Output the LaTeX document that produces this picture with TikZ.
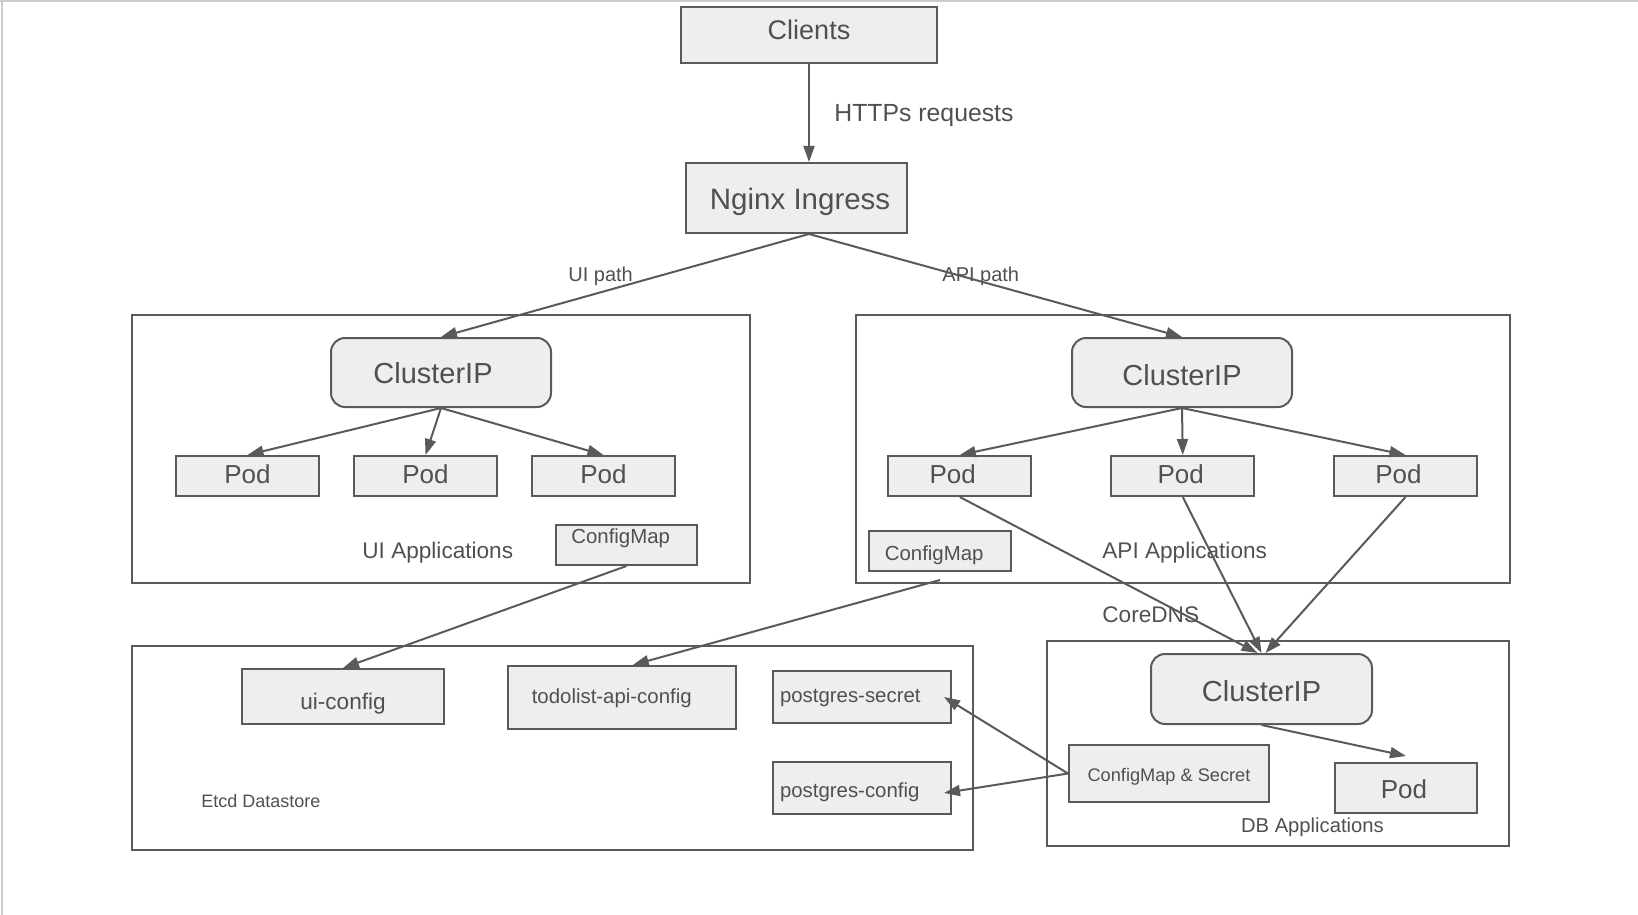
\documentclass[tikz,border=0pt]{standalone}
\usepackage{fontspec}
\setmainfont{Liberation Sans}
\usetikzlibrary{arrows.meta}
\definecolor{linegray}{HTML}{5A5A5A}
\definecolor{boxgray}{HTML}{EEEEEE}
\definecolor{textgray}{HTML}{505050}
\definecolor{framegray}{HTML}{CCCCCC}

\begin{document}
\begin{tikzpicture}[x=0.5pt, y=-0.5pt,
    fs/.style={font=\fontsize{#1}{#1}\selectfont},
    lift/.style={text depth=0pt, text height=#1},
    nudge/.style={execute at begin node=\kern-#1, execute at end node=\kern#1},
    box/.style={draw=linegray, fill=boxgray, line width=1pt, inner sep=0pt, text=textgray},
    roundbox/.style={box, rounded corners=7pt},
    podbox/.style={box, fs=13pt, minimum width=71.5pt, minimum height=20pt, lift=7.3pt},
    group/.style={draw=linegray, line width=1pt, inner sep=0pt},
    txt/.style={text=textgray, inner sep=0pt, anchor=base west},
    arr/.style={draw=linegray, line width=1pt, -{Triangle[length=8pt,width=5.5pt]}}]

    \useasboundingbox (0,0) rectangle (1638,915);
    % Page frame
    \draw[framegray, line width=0.6pt] (0,1) -- (1638,1);
    \draw[framegray, line width=0.6pt] (2,0) -- (2,915);

    % Clients and ingress
    \node[box, fs=13.5pt, minimum width=128pt, minimum height=28pt, lift=5pt] (CL) at (809,35) {Clients};
    \node[box, fs=14.75pt, minimum width=110.5pt, minimum height=35pt, lift=11.3pt, nudge=-1.8pt] (NG) at (796.5,198) {Nginx Ingress};
    \node[txt, fs=12.4pt] (HT) at (834,122) {HTTPs requests};
    \node[txt, fs=10pt] (UP) at (568,281.7) {UI path};
    \node[txt, fs=10pt] (AP) at (942,281.7) {API path};

    % UI Applications
    \node[group, minimum width=309pt, minimum height=134pt] (UA) at (441,449) {};
    \node[roundbox, fs=14.5pt, minimum width=110pt, minimum height=34.5pt, lift=10.5pt, nudge=4pt] (UC) at (441,372.5) {ClusterIP};
    \node[podbox] (U1) at (247.5,476) {Pod};
    \node[podbox] (U2) at (425.5,476) {Pod};
    \node[podbox] (U3) at (603.5,476) {Pod};
    \node[box, fs=10.2pt, minimum width=70.5pt, minimum height=20pt, text height=0pt, text depth=2pt, nudge=2.9pt] (UM) at (626.5,545) {ConfigMap};
    \node[txt, fs=11.3pt] (UT) at (362,558.3) {UI Applications};

    % API Applications
    \node[group, minimum width=327.25pt, minimum height=134pt] (AA) at (1182.75,449) {};
    \node[roundbox, fs=14.5pt, minimum width=110pt, minimum height=34.5pt, lift=12.5pt] (AC) at (1182,372.5) {ClusterIP};
    \node[podbox, nudge=3.5pt] (A1) at (959.75,476) {Pod};
    \node[podbox, nudge=1pt] (A2) at (1182.75,476) {Pod};
    \node[podbox, nudge=3.5pt] (A3) at (1405.5,476) {Pod};
    \node[box, fs=10.2pt, minimum width=71.25pt, minimum height=20pt, lift=9pt, nudge=2.9pt] (AM) at (940,551) {ConfigMap};
    \node[txt, fs=11.3pt] (AT) at (1102,558.3) {API Applications};
    \node[txt, fs=11.3pt] (DN) at (1102,622.7) {CoreDNS};

    % Etcd Datastore
    \node[group, minimum width=420.5pt, minimum height=102pt] (ED) at (552.5,748) {};
    \node[box, fs=11.3pt, minimum width=100.8pt, minimum height=27.5pt, lift=12.5pt] (UCF) at (343,696.5) {ui-config};
    \node[box, fs=10.2pt, minimum width=113.75pt, minimum height=31.5pt, lift=5.5pt, nudge=5pt] (TCF) at (621.75,697.5) {todolist-api-config};
    \node[box, fs=10.2pt, minimum height=26pt, inner xsep=3.5pt, text width=82pt, align=left, lift=5pt] (PS) at (862,697) {postgres-secret};
    \node[box, fs=10.2pt, minimum height=26pt, inner xsep=3.5pt, text width=82pt, align=left, lift=9.7pt] (PC) at (862,788) {postgres-config};
    \node[txt, fs=9pt] (ET) at (201,807.7) {Etcd Datastore};

    % DB Applications
    \node[group, minimum width=231pt, minimum height=102.5pt] (DA) at (1278,743.5) {};
    \node[roundbox, fs=14.5pt, minimum width=110.5pt, minimum height=35pt, lift=12.7pt] (DC) at (1261.5,689) {ClusterIP};
    \node[box, fs=9.1pt, minimum width=100pt, minimum height=28.5pt, lift=7.5pt] (CS) at (1169,773.5) {ConfigMap \& Secret};
    \node[box, fs=13pt, minimum width=71pt, minimum height=25pt, lift=10.3pt, nudge=1pt] (DP) at (1406,788) {Pod};
    \node[txt, fs=10.1pt] (DT) at (1240.7,832.3) {DB Applications};

    % Requests
    \draw[arr] (CL.south) -- (CL.south |- NG.north);
    \coordinate (NB) at (CL.south |- NG.south);
    \draw[arr] (NB) -- (UC.north);
    \draw[arr] (NB) -- (AC.north);
    \foreach \p in {U1,U2,U3} \draw[arr] (UC.south) -- (\p.north);
    \foreach \p in {A1,A2,A3} \draw[arr] (AC.south) -- (\p.north);

    % Service discovery
    \draw[arr] (A1.south) -- ([xshift=-2pt]DC.north);
    \draw[arr] (A2.south) -- (DC.north);
    \draw[arr] (A3.south) -- ([xshift=2pt]DC.north);
    \draw[arr] (DC.south) -- ([yshift=3pt]DP.north);

    % Config stored in etcd
    \draw[arr] (UM.south) -- (UCF.north);
    \draw[arr] ([yshift=-4pt]AM.south) -- ([xshift=5.5pt]TCF.north);
    \draw[arr] (CS.west) -- ([xshift=-4pt]PS.east);
    \draw[arr] (CS.west) -- ([xshift=-4pt,yshift=-2.5pt]PC.east);

\end{tikzpicture}
\end{document}
